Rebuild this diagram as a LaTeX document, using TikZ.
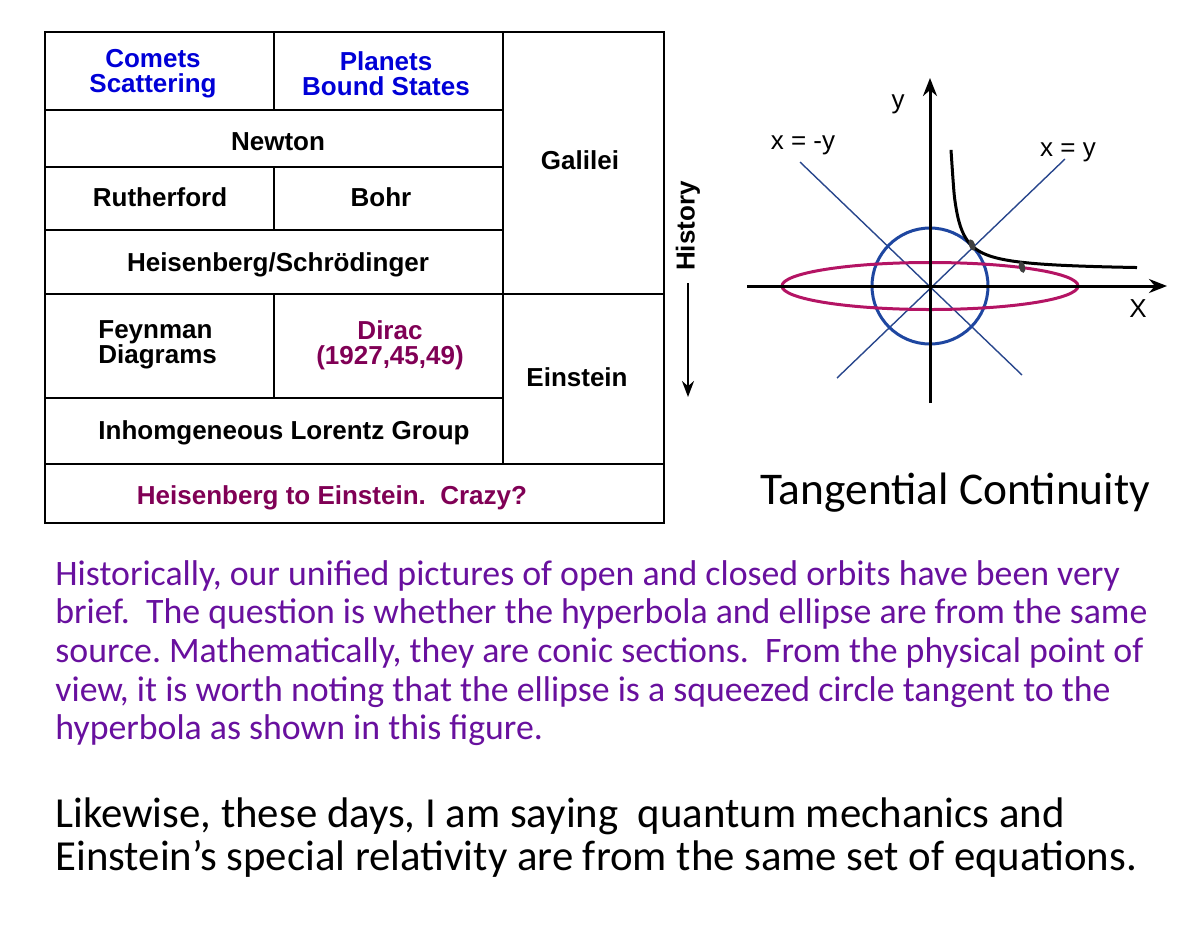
\documentclass[tikz,border=0pt]{standalone}
\usepackage{fontspec}
\setmainfont{Carlito}
\newfontfamily\arialfont{Liberation Sans}
\usetikzlibrary{arrows.meta}
\frenchspacing
\definecolor{cometblue}{RGB}{0,0,215}
\definecolor{diracred}{RGB}{128,0,85}
\definecolor{notepurple}{RGB}{104,16,158}
\definecolor{circleblue}{RGB}{30,70,160}
\definecolor{lineblue}{RGB}{40,70,140}
\definecolor{ellipsered}{RGB}{180,20,100}
\tikzset{
  cell/.style={line width=1.3pt},
  celltext/.style={font=\arialfont\bfseries\fontsize{13}{12.5}\selectfont, inner sep=0pt, align=center},
  axis/.style={line width=1.5pt, -{Stealth[length=9pt,width=7pt]}},
  axislabel/.style={font=\arialfont\fontsize{13}{13}\selectfont, inner sep=0pt},
}
\begin{document}
\begin{tikzpicture}[x=0.5pt,y=0.5pt]
\useasboundingbox (0,0) rectangle (1200,-938);
% table
\draw [cell] (45,-32) rectangle (274,-110);
\draw [cell] (274,-32) rectangle (503,-110);
\draw [cell] (503,-32) rectangle (664,-294);
\draw [cell] (45,-110) rectangle (503,-167);
\draw [cell] (45,-167) rectangle (274,-230);
\draw [cell] (274,-167) rectangle (503,-230);
\draw [cell] (45,-230) rectangle (503,-294);
\draw [cell] (45,-294) rectangle (274,-398);
\draw [cell] (274,-294) rectangle (503,-398);
\draw [cell] (503,-294) rectangle (664,-464);
\draw [cell] (45,-398) rectangle (503,-464);
\draw [cell] (45,-464) rectangle (664,-523);
\node [celltext, text=cometblue] (comets) at (153,-74) {Comets\\Scattering};
\node [celltext, text=cometblue] (planets) at (386,-74) {Planets\\Bound States};
\node [celltext] (newton) at (278,-142) {Newton};
\node [celltext] (galilei) at (580,-160) {Galilei};
\node [celltext] (rutherford) at (160,-197) {Rutherford};
\node [celltext] (bohr) at (381,-197) {Bohr};
\node [celltext] (heisenberg) at (278,-265) {Heisenberg/Schrödinger};
\node [celltext, align=left, anchor=west] (feynman) at (98,-345) {Feynman\\Diagrams};
\node [celltext, text=diracred] (dirac) at (390,-345) {Dirac\\(1927,45,49)};
\node [celltext] (einstein) at (577,-377) {Einstein};
\node [celltext] (lorentz) at (284,-433) {Inhomgeneous Lorentz Group};
\node [celltext, text=diracred] (crazy) at (332,-498) {Heisenberg to Einstein.\ \ Crazy?};
% history arrow
\node [celltext, rotate=90] (history) at (688,-226) {History};
\coordinate (histend) at (688,-397);
\draw [line width=1.2pt, -{Stealth[length=8pt,width=6pt]}] (history.west) ++(0,-12) -- (histend);
% graph
\coordinate (origin) at (930,-286);
\coordinate (xstart) at (747,-286);
\coordinate (xend) at (1167,-286);
\coordinate (ystart) at (930,-403);
\coordinate (yend) at (930,-78);
\draw [lineblue, line width=0.7pt] (800,-162) -- (1022,-375);
\draw [lineblue, line width=0.7pt] (837,-378) -- (1065,-159);
\draw [circleblue, line width=1.5pt] (origin) circle [radius=58];
\draw [ellipsered, line width=1.5pt] (origin) ellipse [x radius=148, y radius=23.5];
\draw [line width=1.5pt, smooth, domain=21:207, samples=60] plot ({930+\x}, {-286+15+666/(\x-15.5)});
\draw [axis] (xstart) -- (xend);
\draw [axis] (ystart) -- (yend);
\fill [black!75, rotate around={20:(972,-245)}] (972,-245) ellipse [x radius=3, y radius=6];
\fill [black!75, rotate around={15:(1022,-267)}] (1022,-267) ellipse [x radius=3, y radius=6];
\node [axislabel] (ylabel) at (898,-104) {y};
\node [axislabel] (xlabel) at (1138,-309) {X};
\node [axislabel] (antidiag) at (803,-145) {x = -y};
\node [axislabel] (diag) at (1068,-152) {x = y};
\node [font=\fontsize{22.7}{26}\selectfont, inner sep=0pt, anchor=base west] (title) at (760,-504) {Tangential Continuity};
% notes
\node [font=\fontsize{17.9}{19.3}\selectfont, text=notepurple, inner sep=0pt, anchor=north west, align=left] (note) at (55,-560) {Historically, our unified pictures of open and closed orbits have been very\\brief.\ \ The question is whether the hyperbola and ellipse are from the same\\source. Mathematically, they are conic sections.\ \ From the physical point of\\view, it is worth noting that the ellipse is a squeezed circle tangent to the\\hyperbola as shown in this figure.};
\node [font=\fontsize{21.4}{21.8}\selectfont, inner sep=0pt, anchor=north west, align=left] (claim) at (55,-797) {Likewise, these days, I am saying\ \ quantum mechanics and\\Einstein’s special relativity are from the same set of equations.};
\end{tikzpicture}
\end{document}
